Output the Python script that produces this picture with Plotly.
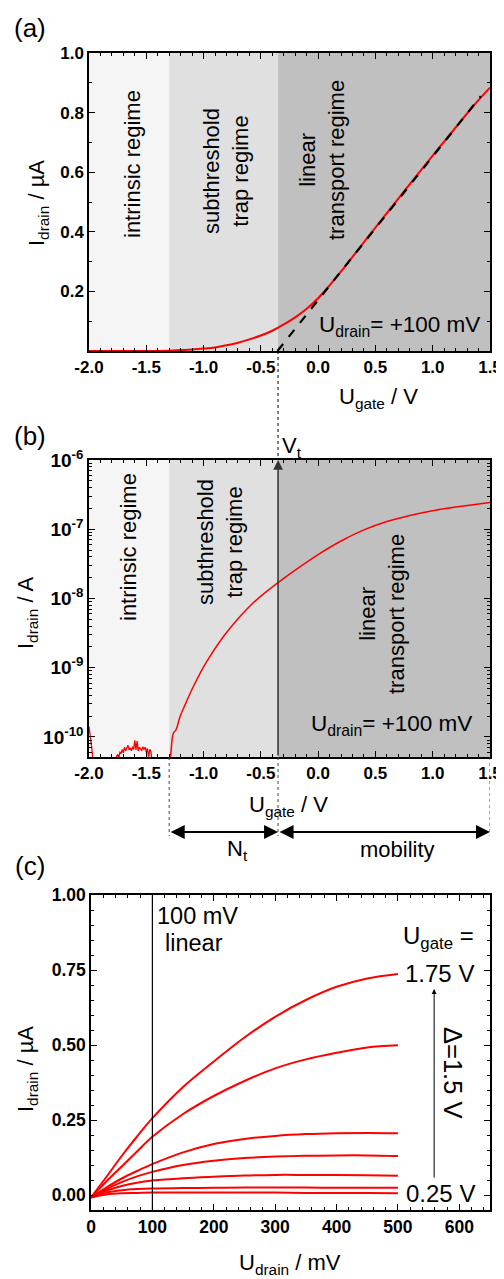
import plotly.graph_objects as go

# ---------------- data ----------------
# Panel (a): transfer curve, linear scale (µA)
ug_a = [-2.0, -1.6, -1.3, -1.2, -1.1, -1.0, -0.9, -0.8, -0.7, -0.6, -0.5, -0.4, -0.3,
        -0.2, -0.1, 0.0, 0.1, 0.2, 0.3, 0.4, 0.5, 0.6, 0.7, 0.8, 0.9, 1.0, 1.1, 1.2,
        1.3, 1.4, 1.5]
id_a = [0.0, 0.0, 0.001, 0.003, 0.005, 0.008, 0.012, 0.019, 0.028, 0.039, 0.052, 0.068,
        0.089, 0.113, 0.142, 0.177, 0.220, 0.267, 0.316, 0.365, 0.414, 0.463, 0.511,
        0.560, 0.608, 0.656, 0.703, 0.750, 0.797, 0.842, 0.884]
fit_ug = [-0.355, 1.42]
fit_id = [0.0, 0.855]

# Panel (b): transfer curve, log scale (A)
ug_b_noise = [-2.0, -1.99, -1.98, -1.97, -1.96, -1.93, -1.78, -1.76, -1.75, -1.74, -1.73,
              -1.72, -1.71, -1.70, -1.69, -1.68, -1.67, -1.66, -1.65, -1.64, -1.63, -1.62,
              -1.61, -1.60, -1.59, -1.58, -1.57, -1.56, -1.55, -1.54, -1.53, -1.52, -1.51,
              -1.50, -1.49, -1.48, -1.47, -1.46, -1.45, -1.44, -1.32]
id_b_noise = [1.41e-10, 1.12e-10, 7.9e-11, 5.6e-11, 3.2e-11, 2.5e-11, 2.5e-11, 5.2e-11,
              5.6e-11, 5.0e-11, 6.0e-11, 5.8e-11, 6.6e-11, 5.9e-11, 7.1e-11, 6.3e-11,
              6.8e-11, 7.6e-11, 6.5e-11, 6.9e-11, 6.3e-11, 7.2e-11, 6.6e-11, 8.9e-11,
              6.5e-11, 8.7e-11, 6.3e-11, 7.1e-11, 6.8e-11, 6.3e-11, 7.2e-11, 6.6e-11,
              7.1e-11, 6.0e-11, 6.8e-11, 5.0e-11, 6.6e-11, 6.2e-11, 4.5e-11, 2.5e-11, 2.5e-11]
ug_b = [-1.30, -1.287, -1.264, -1.241, -1.206, -1.162, -1.09, -0.973, -0.828, -0.682,
        -0.595, -0.5, -0.353, -0.2, 0.0, 0.2, 0.4, 0.6, 0.8, 1.0, 1.2, 1.5]
id_b = [4.0e-11, 5.5e-11, 1.13e-10, 1.26e-10, 1.96e-10, 2.9e-10, 5.3e-10, 1.22e-9, 2.8e-9,
        5.5e-9, 7.8e-9, 1.08e-8, 1.68e-8, 2.57e-8, 4.31e-8, 6.76e-8, 9.77e-8, 1.29e-7,
        1.58e-7, 1.85e-7, 2.09e-7, 2.43e-7]

# Panel (c): output curves (µA) for U_gate = 1.75 ... 0.25 V
ud_c = [0, 25, 50, 75, 100, 150, 200, 250, 300, 350, 400, 450, 500]
id_c_175 = [-0.008, 0.060, 0.130, 0.195, 0.256, 0.360, 0.445, 0.525, 0.594, 0.650, 0.694, 0.722, 0.737]
id_c_150 = [-0.008, 0.045, 0.095, 0.145, 0.194, 0.270, 0.330, 0.380, 0.422, 0.452, 0.474, 0.492, 0.499]
id_c_125 = [-0.008, 0.025, 0.055, 0.080, 0.103, 0.142, 0.170, 0.187, 0.197, 0.203, 0.206, 0.207, 0.206]
id_c_100 = [-0.008, 0.020, 0.043, 0.062, 0.077, 0.100, 0.114, 0.123, 0.128, 0.131, 0.132, 0.132, 0.130]
id_c_075 = [-0.008, 0.014, 0.030, 0.041, 0.048, 0.056, 0.061, 0.065, 0.067, 0.067, 0.067, 0.066, 0.064]
id_c_050 = [-0.008, 0.008, 0.016, 0.020, 0.022, 0.023, 0.024, 0.025, 0.025, 0.025, 0.024, 0.024, 0.024]
id_c_025 = [-0.008, 0.002, 0.006, 0.007, 0.008, 0.008, 0.008, 0.008, 0.008, 0.007, 0.007, 0.007, 0.006]

regime_edges = [-2.0, -1.3, -0.35, 1.5]
regime_colors = ["#f5f5f5", "#e0e0e0", "#c0c0c0"]
v_t = -0.35

ug_ticks = [-2.0, -1.5, -1.0, -0.5, 0.0, 0.5, 1.0, 1.5]
ug_ticktext = ["-2.0", "-1.5", "-1.0", "-0.5", "0.0", "0.5", "1.0", "1.5"]
ia_ticks = [0.2, 0.4, 0.6, 0.8, 1.0]
ia_ticktext = ["0.2", "0.4", "0.6", "0.8", "1.0"]
ib_ticks = [1e-10, 1e-9, 1e-8, 1e-7, 1e-6]
ib_ticktext = ["10<sup>-10</sup>", "10<sup>-9</sup>", "10<sup>-8</sup>", "10<sup>-7</sup>", "10<sup>-6</sup>"]

# ---------------- figure ----------------
# The page body has an 8 px margin, so the figure starts at page pixel (8, 8).
OFF = 8
W, H = 504 - OFF, 1279 - OFF
FONT = "Liberation Sans, Arial, sans-serif"
RED = "#ff0000"


def px(x):
    return (x - OFF) / W


def py(y):
    return 1 - (y - OFF) / H


fig = go.Figure()

fig.add_trace(go.Scatter(x=ug_a, y=id_a, mode="lines", line=dict(color=RED, width=2, shape="spline"),
                         xaxis="x", yaxis="y", showlegend=False))
fig.add_trace(go.Scatter(x=fit_ug, y=fit_id, mode="lines",
                         line=dict(color="black", width=2.2, dash="dash"),
                         xaxis="x", yaxis="y", showlegend=False))
fig.add_trace(go.Scatter(x=ug_b_noise, y=id_b_noise, mode="lines", line=dict(color=RED, width=1.3),
                         xaxis="x2", yaxis="y2", showlegend=False))
fig.add_trace(go.Scatter(x=ug_b, y=id_b, mode="lines", line=dict(color=RED, width=1.5, shape="spline"),
                         xaxis="x2", yaxis="y2", showlegend=False))
for ys in [id_c_175, id_c_150, id_c_125, id_c_100, id_c_075, id_c_050, id_c_025]:
    fig.add_trace(go.Scatter(x=ud_c, y=ys, mode="lines", line=dict(color=RED, width=2, shape="spline"),
                             xaxis="x3", yaxis="y3", showlegend=False))


def tf(size):
    return dict(family=FONT, size=size, color="black", weight="bold")


common = dict(showgrid=False, zeroline=False, showline=True, linecolor="black", linewidth=1.5,
              mirror="allticks", ticks="inside", ticklen=6, tickwidth=1.2, tickcolor="black",
              automargin=False)
minor_common = dict(ticks="inside", ticklen=3, tickwidth=1, tickcolor="black", showgrid=False)

fig.update_layout(
    width=W, height=H, autosize=False,
    margin=dict(l=0, r=0, t=0, b=0, autoexpand=False),
    paper_bgcolor="white", plot_bgcolor="white",
    xaxis=dict(domain=[px(89), px(490)], anchor="y", range=[-2, 1.5],
               tickmode="array", tickvals=ug_ticks, ticktext=ug_ticktext, tickfont=tf(17),
               minor=dict(tickmode="linear", tick0=0, dtick=0.1, **minor_common), **common),
    yaxis=dict(domain=[py(351), py(53)], anchor="x", range=[0, 1.0],
               tickmode="array", tickvals=ia_ticks, ticktext=ia_ticktext, tickfont=tf(17),
               minor=dict(tickmode="linear", tick0=0, dtick=0.1, **minor_common), **common),
    xaxis2=dict(domain=[px(89), px(490)], anchor="y2", range=[-2, 1.5],
                tickmode="array", tickvals=ug_ticks, ticktext=ug_ticktext, tickfont=tf(17),
                minor=dict(tickmode="linear", tick0=0, dtick=0.1, **minor_common), **common),
    yaxis2=dict(domain=[py(757), py(460)], anchor="x2", type="log", range=[-10.29, -6],
                tickmode="array", tickvals=ib_ticks, ticktext=ib_ticktext, tickfont=tf(19),
                minor=dict(dtick="D1", **minor_common), **common),
    xaxis3=dict(domain=[px(91), px(490)], anchor="y3", range=[0, 650],
                tickmode="linear", tick0=0, dtick=100, tickfont=tf(17.5),
                minor=dict(tickmode="linear", tick0=0, dtick=20, **minor_common), **common),
    yaxis3=dict(domain=[py(1210), py(895)], anchor="x3", range=[-0.05, 1.0],
                tickmode="linear", tick0=0, dtick=0.25, tickformat=".2f", tickfont=tf(17.5),
                minor=dict(tickmode="linear", tick0=0, dtick=0.05, **minor_common), **common),
)

shapes = []
for xr, yr in [("x", "y domain"), ("x2", "y2 domain")]:
    for i, col in enumerate(regime_colors):
        shapes.append(dict(type="rect", xref=xr, yref=yr, x0=regime_edges[i], x1=regime_edges[i + 1],
                           y0=0, y1=1, fillcolor=col, line=dict(width=0), layer="below"))
# dotted connector from (a) to (b) at V_t
shapes.append(dict(type="line", xref="x", yref="paper", x0=v_t, x1=v_t, y0=py(351), y1=py(460),
                   line=dict(color="black", width=1, dash="dot")))
# dotted drop lines below (b)
for xv in [regime_edges[1], v_t, regime_edges[3]]:
    shapes.append(dict(type="line", xref="x2", yref="paper", x0=xv, x1=xv, y0=py(757), y1=py(836),
                       line=dict(color="#444444", width=1, dash="dot")))
# 100 mV line in (c)
shapes.append(dict(type="line", xref="x3", yref="y3 domain", x0=100, x1=100, y0=0, y1=1,
                   line=dict(color="black", width=1.2)))
fig.update_layout(shapes=shapes)

ann = []


def txt(text, x, y, size=22, angle=0, xanchor="center", yanchor="middle"):
    ann.append(dict(text=text, x=x, y=y, xref="paper", yref="paper", showarrow=False, textangle=angle,
                    xanchor=xanchor, yanchor=yanchor, align="center",
                    font=dict(family=FONT, size=size, color="black")))


# panel labels
txt("(a)", px(30), py(28), size=26)
txt("(b)", px(30), py(436), size=26)
txt("(c)", px(30), py(866), size=26)

# axis titles
txt("U<sub>gate</sub> / V", px(378), py(398), size=22)
txt("I<sub>drain</sub> / µA", px(38), py(203), size=22, angle=-90)
txt("U<sub>gate</sub> / V", px(288), py(806), size=22)
txt("I<sub>drain</sub> / A", px(27), py(613), size=22, angle=-90)
txt("U<sub>drain</sub> / mV", px(290), py(1264), size=22)
txt("I<sub>drain</sub> / µA", px(27), py(1069), size=22, angle=-90)

# regime labels (a)
txt("intrinsic regime", px(132), py(164), size=22, angle=-90)
txt("subthreshold<br>trap regime", px(226), py(171), size=22, angle=-90)
txt("linear<br>transport regime", px(322), py(160), size=22, angle=-90)
txt("U<sub>drain</sub>= +100 mV", px(399), py(326), size=22.5)
# regime labels (b)
txt("intrinsic regime", px(128), py(547), size=22, angle=-90)
txt("subthreshold<br>trap regime", px(220), py(542), size=22, angle=-90)
txt("linear<br>transport regime", px(382), py(614), size=22, angle=-90)
txt("U<sub>drain</sub>= +100 mV", px(391), py(725), size=22.5)
txt("V<sub>t</sub>", px(292), py(447), size=22)

# N_t / mobility labels
txt("N<sub>t</sub>", px(237), py(850), size=22)
txt("mobility", px(397), py(849), size=22)

# panel (c) labels
txt("100 mV", px(197), py(916), size=23.5)
txt("linear", px(194), py(943), size=23.5)
txt("U<sub>gate</sub> =", px(438), py(937), size=24)
txt("1.75 V", px(439), py(973), size=24)
txt("0.25 V", px(440), py(1193), size=24)
txt("Δ=1.5 V", px(453), py(1072), size=25.5, angle=90)

# arrows
ann.append(dict(x=v_t, y=1, xref="x2", yref="y2 domain", ax=v_t, ay=0, axref="x2", ayref="y2 domain",
                showarrow=True, arrowhead=2, arrowsize=1.3, arrowwidth=1.5, arrowcolor="#333333", text=""))
ann.append(dict(x=v_t, y=py(832), xref="x2", yref="paper", ax=regime_edges[1], ay=0, axref="x2",
                ayref="pixel", showarrow=True, arrowhead=2, startarrowhead=2, arrowside="end+start",
                arrowsize=1.4, startarrowsize=1.4, arrowwidth=2, arrowcolor="black", text=""))
ann.append(dict(x=regime_edges[3], y=py(832), xref="x2", yref="paper", ax=v_t, ay=0, axref="x2",
                ayref="pixel", showarrow=True, arrowhead=2, startarrowhead=2, arrowside="end+start",
                arrowsize=1.4, startarrowsize=1.4, arrowwidth=2, arrowcolor="black", text=""))
ann.append(dict(x=559, y=0.687, xref="x3", yref="y3", ax=559, ay=0.053, axref="x3", ayref="y3",
                showarrow=True, arrowhead=2, arrowsize=1, arrowwidth=1, arrowcolor="black", text=""))

fig.update_layout(annotations=ann)
fig.write_html("out.html")
